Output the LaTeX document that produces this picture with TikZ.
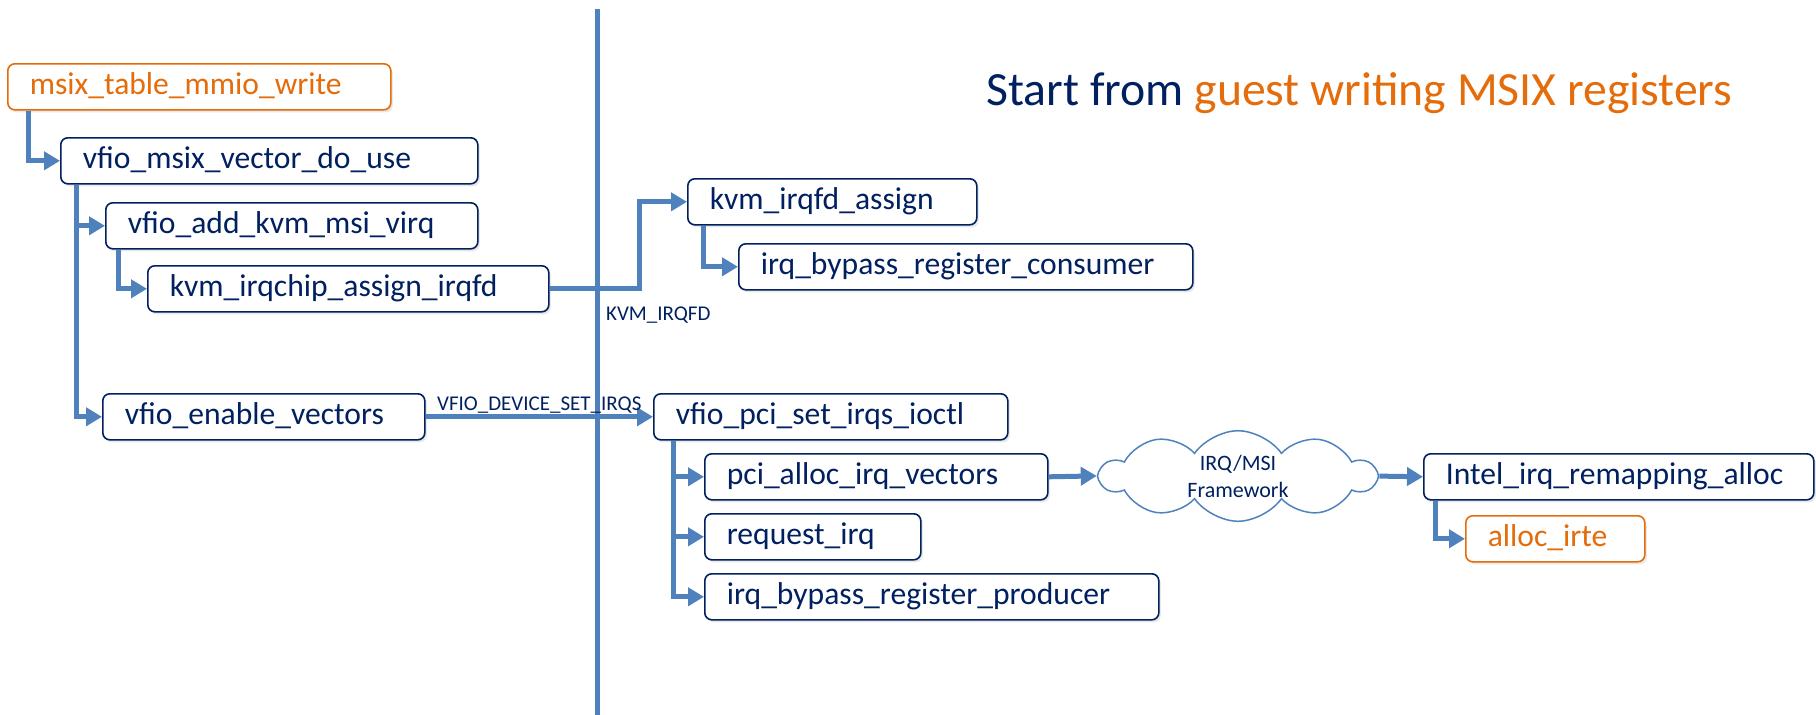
\documentclass[tikz,border=0pt]{standalone}
\usepackage{fontspec}
\setmainfont{Carlito}
\usetikzlibrary{arrows.meta}
\usetikzlibrary{shapes.symbols}
\usetikzlibrary{shadows}
\definecolor{navy}{rgb}{0, 0.125, 0.376}
\definecolor{link}{rgb}{0.31, 0.506, 0.741}
\definecolor{hot}{rgb}{0.894, 0.424, 0.039}

\tikzset{
  fn/.style={draw=navy, text=navy, line width=1.6pt, rounded corners=7pt,
    fill=white, anchor=north west, minimum height=46pt, inner xsep=22pt,
    inner ysep=0pt, align=left, font=\fontsize{31.6}{38}\selectfont,
    execute at begin node=\strut,
    drop shadow={shadow xshift=2pt, shadow yshift=-2.5pt, opacity=0.18}},
  entry/.style={fn, draw=hot, text=hot},
  call/.style={draw=link, line width=5pt, -{Triangle[length=16pt, width=18pt]}},
  tag/.style={text=navy, font=\fontsize{21}{25}\selectfont, inner sep=0pt}
}

\begin{document}
\begin{tikzpicture}[x=1pt, y=-1pt]
\useasboundingbox (0,0) rectangle (1816,715);
\coordinate (top) at (597,9);
\coordinate (bottom) at (597,715);
\draw[link, line width=5pt] (top) -- (bottom);
\node[entry, text width=339pt] (msix) at (7,63) {msix\_table\_mmio\_write};
\node[fn, text width=373pt] (vmsix) at (60,137) {vfio\_msix\_vector\_do\_use};
\node[fn, text width=328pt] (vadd) at (105,202) {vfio\_add\_kvm\_msi\_virq};
\node[fn, text width=357pt] (kvmchip) at (147,265) {kvm\_irqchip\_assign\_irqfd};
\node[fn, text width=245pt] (kvmfd) at (687,178) {kvm\_irqfd\_assign};
\node[fn, text width=410pt] (consumer) at (738,243) {irq\_bypass\_register\_consumer};
\node[fn, text width=278pt] (venable) at (102,393) {vfio\_enable\_vectors};
\node[fn, text width=310pt] (vpci) at (653,393) {vfio\_pci\_set\_irqs\_ioctl};
\node[fn, text width=299pt] (pcialloc) at (704,453) {pci\_alloc\_irq\_vectors};
\node[fn, text width=172pt] (reqirq) at (704,513) {request\_irq};
\node[fn, text width=410pt] (producer) at (704,573) {irq\_bypass\_register\_producer};
\node[cloud, cloud puffs=10, cloud puff arc=110, cloud ignores aspect, draw=link,
  line width=1.5pt, fill=white, minimum width=275pt, minimum height=90pt,
  align=center, text=navy, font=\fontsize{22}{27}\selectfont] (irqmsi)
  at (1238,476) {IRQ/MSI\\Framework};
\node[fn, text width=346pt] (intel) at (1423,453) {Intel\_irq\_remapping\_alloc};
\node[entry, text width=135pt] (irte) at (1465,515) {alloc\_irte};
\node[anchor=base west, text=navy, font=\fontsize{47.7}{56}\selectfont] (title)
  at (983,105) {Start from \textcolor{hot}{guest writing MSIX registers}};

\draw[call] ([xshift=21pt]msix.south west) |- (vmsix.west);
\draw[call] ([xshift=16pt]vmsix.south west) |- (vadd.west);
\draw[call] ([xshift=16pt]vmsix.south west) |- (venable.west);
\draw[call] ([xshift=13pt]vadd.south west) |- (kvmchip.west);
\draw[call] (kvmchip.east) -- node[tag, pos=0.6, anchor=north west, yshift=-16pt] {KVM\_IRQFD}
  ++(90,0) |- (kvmfd.west);
\draw[call] ([xshift=16pt]kvmfd.south west) |- (consumer.west);
\draw[call] (venable.east) -- node[tag, above=1pt] {VFIO\_DEVICE\_SET\_IRQS} (vpci.west);
\draw[call] ([xshift=20pt]vpci.south west) |- (pcialloc.west);
\draw[call] ([xshift=20pt]vpci.south west) |- (reqirq.west);
\draw[call] ([xshift=20pt]vpci.south west) |- (producer.west);
\draw[call] (pcialloc.east) -- (irqmsi.west);
\draw[call] (irqmsi.east) -- (intel.west);
\draw[call] ([xshift=12pt]intel.south west) |- (irte.west);
\end{tikzpicture}
\end{document}
